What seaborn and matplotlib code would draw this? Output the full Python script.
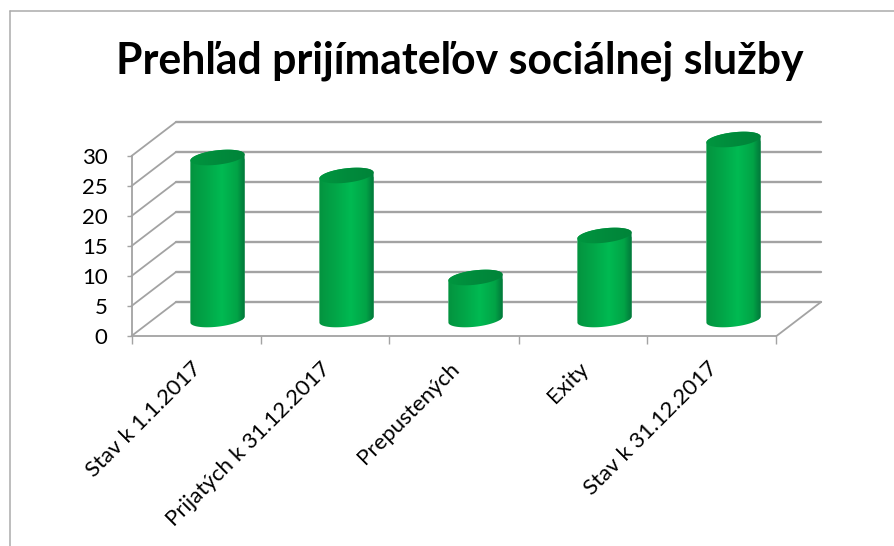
import numpy as np
import pandas as pd
import matplotlib
matplotlib.use("Agg")
import matplotlib.pyplot as plt
import seaborn as sns
from matplotlib.colors import LinearSegmentedColormap
from matplotlib.lines import Line2D
from matplotlib.patches import PathPatch
from matplotlib.path import Path
from matplotlib.transforms import ScaledTranslation

# Chart data
categories = ["Stav k 1.1.2017", "Prijatých k 31.12.2017", "Prepustených", "Exity", "Stav k 31.12.2017"]
values = [27, 24, 7, 14, 30]
y_ticks = [0, 5, 10, 15, 20, 25, 30]
title = "Prehľad prijímateľov sociálnej služby"

sns.set_theme(style="white")
plt.rcParams["font.family"] = ["Lato", "DejaVu Sans"]

GRID = "#a3a3a3"
side_cmap = LinearSegmentedColormap.from_list(
    "side", [(0, "#04933f"), (0.3, "#02a648"), (0.58, "#00ba52"), (0.86, "#02a346"), (1, "#01763a")])
top_cmap = LinearSegmentedColormap.from_list("top", ["#00963f", "#008b3c", "#008439"])

fig = plt.figure(figsize=(8.95, 5.46), dpi=100)
W, H = 895, 546
ax = fig.add_axes([131.5 / W, (H - 336) / H, 645 / W, 180 / H])

df = pd.DataFrame({"category": categories, "value": values})
sns.barplot(data=df, x="category", y="value", width=0.42, color="#00a648", ax=ax, zorder=3)

ax.set_xlim(-0.5, 4.5)
ax.set_ylim(0, 30)

# Perspective depth, in pixels (dpi is 100)
depth_x, depth_y = 44.5, 34
px_x = 5 / 645    # data units per pixel
px_y = 30 / 180
back = ax.transData + ScaledTranslation(depth_x / 100, depth_y / 100, fig.dpi_scale_trans)
mid = ax.transData + ScaledTranslation(21.5 / 100, 16.5 / 100, fig.dpi_scale_trans)

# Back wall and side wall gridlines
for y in y_ticks:
    ax.plot([-0.5, 4.5], [y, y], transform=back, color=GRID, lw=1.7, clip_on=False, zorder=1)
    ax.plot([-0.5, -0.5 + depth_x * px_x], [y, y + depth_y * px_y], color=GRID, lw=1.3,
            clip_on=False, zorder=1)
ax.plot([4.5, 4.5 + depth_x * px_x], [0, depth_y * px_y], color=GRID, lw=1.3, clip_on=False, zorder=1)

# Turn each bar into a cylinder
t = np.linspace(0, 2 * np.pi, 121)
semi_b = 7.2 * px_y
skew = 3.0 * px_y
for bar in ax.patches:
    x0, w, h = bar.get_x(), bar.get_width(), bar.get_height()
    cx = x0 + w / 2
    ex = cx + w / 2 * np.cos(t)
    ey = semi_b * np.sin(t) + skew * np.cos(t)

    # outline: lower half of the base, upper half of the top
    lower = t[60:121]
    lx = cx + w / 2 * np.cos(lower)
    ly = semi_b * np.sin(lower) + skew * np.cos(lower)
    upper = t[0:61]
    ux = cx + w / 2 * np.cos(upper)
    uy = h + semi_b * np.sin(upper) + skew * np.cos(upper)
    outline = PathPatch(Path(np.column_stack([np.r_[lx, ux], np.r_[ly, uy]])), transform=mid,
                        fc="none", ec="none", clip_on=False)
    ax.add_patch(outline)

    bar.set_transform(mid)
    bar.set_clip_path(outline)
    bar.set_clip_box(fig.bbox)

    grad = np.linspace(0, 1, 256).reshape(1, -1)
    im = ax.imshow(grad, cmap=side_cmap, aspect="auto", zorder=3.5,
                   extent=[x0, x0 + w, -semi_b * 2, h + semi_b * 2], transform=mid)
    im.set_clip_path(outline)
    im.set_clip_box(fig.bbox)

    cap = PathPatch(Path(np.column_stack([ex, h + ey])), transform=mid, fc="none", ec="none", clip_on=False)
    ax.add_patch(cap)
    im2 = ax.imshow(grad, cmap=top_cmap, aspect="auto", zorder=4,
                    extent=[x0, x0 + w, h - semi_b * 2, h + semi_b * 2], transform=mid)
    im2.set_clip_path(cap)
    im2.set_clip_box(fig.bbox)

ax.set_xlim(-0.5, 4.5)
ax.set_ylim(0, 30)

# Axes and ticks
sns.despine(ax=ax)
for side in ["left", "bottom"]:
    ax.spines[side].set_color(GRID)
    ax.spines[side].set_linewidth(1.3)
ax.set_xlabel("")
ax.set_ylabel("")
ax.set_yticks(y_ticks)
ax.tick_params(axis="y", length=3.8, width=1, color=GRID, pad=13.5, labelsize=16, labelcolor="black", left=True)
ax.set_xticks(np.arange(-0.5, 5), minor=True)
ax.tick_params(axis="x", which="minor", length=5.5, width=1, color=GRID, bottom=True)
ax.set_xticks(range(len(categories)))
ax.set_xticklabels(categories, rotation=45, ha="right", rotation_mode="anchor", fontsize=16, color="black")
ax.tick_params(axis="x", which="major", length=0, pad=16)
shift = ScaledTranslation(-5 / 100, 0, fig.dpi_scale_trans)
for lab in ax.get_xticklabels():
    lab.set_transform(lab.get_transform() + shift)
ax.patch.set_visible(False)

fig.text(459.5 / W, 1 - 61 / H, title, ha="center", va="center", fontsize=30.8, fontweight="bold", color="black")

# Chart area border, only top and left are in the frame
fig.add_artist(Line2D([10.5 / W, 10.5 / W], [0, 1 - 11 / H], color="#ababab", lw=1.1))
fig.add_artist(Line2D([10.5 / W, 1], [1 - 11 / H, 1 - 11 / H], color="#ababab", lw=1.1))

fig.savefig("out.png", dpi=100, facecolor="white")
